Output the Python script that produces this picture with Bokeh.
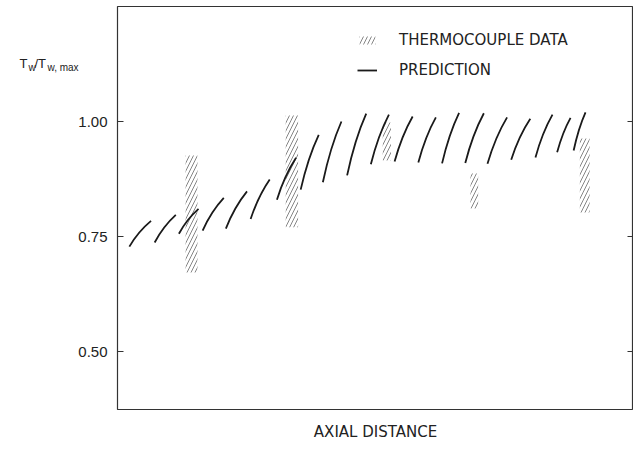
from bokeh.plotting import figure
from bokeh.models import (Range1d, LinearAxis, FixedTicker, Legend, LegendItem,
                          ColumnDataSource, Label, Title, CustomJSTickFormatter)
from bokeh.embed import file_html
from bokeh.resources import INLINE

# Predicted wall temperature: one curved stroke per axial section
pred_x_start = [2.3, 7.2, 11.9, 16.5, 21.0, 25.8, 30.9, 35.5, 39.8, 44.5,
                49.1, 53.7, 58.3, 62.9, 67.4, 71.7, 76.3, 81.0, 85.2, 88.4]
pred_x_end = [6.5, 11.3, 15.7, 20.6, 25.1, 29.5, 34.6, 39.0, 43.4, 48.2,
              52.6, 57.2, 61.7, 66.2, 71.0, 75.5, 80.0, 84.3, 87.8, 90.7]
pred_y_start = [0.728, 0.737, 0.756, 0.763, 0.767, 0.788, 0.830, 0.852, 0.868, 0.883,
                0.907, 0.913, 0.911, 0.909, 0.910, 0.908, 0.917, 0.922, 0.933, 0.937]
pred_y_end = [0.784, 0.797, 0.810, 0.834, 0.848, 0.874, 0.921, 0.971, 1.000, 1.017,
              1.015, 1.011, 1.009, 1.019, 1.018, 1.009, 1.006, 1.015, 1.008, 1.020]

# Thermocouple data bands
tc_x_left = [13.2, 32.6, 51.4, 68.4, 89.6]
tc_x_right = [15.5, 35.0, 53.0, 69.9, 91.5]
tc_y_low = [0.672, 0.770, 0.915, 0.811, 0.802]
tc_y_high = [0.926, 1.013, 0.998, 0.887, 0.963]

y_ticks = [0.50, 0.75, 1.00]

FONT = "Liberation Sans"
WIDE = "DejaVu Sans"
INK = "#1a1a1a"

p = figure(width=633, height=457, output_backend="svg", toolbar_location=None,
           x_range=Range1d(0, 100), y_range=Range1d(0.374, 1.25),
           min_border_left=117, min_border_right=0, min_border_top=6,
           min_border_bottom=48, x_axis_location=None, y_axis_location=None)
p.grid.visible = False
p.outline_line_color = "#333333"
p.outline_line_width = 1.2
p.background_fill_color = "white"
p.border_fill_color = "white"

# bow of each stroke: control point pulled slightly toward the upper left
bx, by = 0.4, 0.58
pred = ColumnDataSource(dict(
    x0=pred_x_start, y0=pred_y_start, x1=pred_x_end, y1=pred_y_end,
    cx=[a + bx * (b - a) for a, b in zip(pred_x_start, pred_x_end)],
    cy=[a + by * (b - a) for a, b in zip(pred_y_start, pred_y_end)],
))
tc = ColumnDataSource(dict(left=tc_x_left, right=tc_x_right,
                           bottom=tc_y_low, top=tc_y_high))

bars = p.quad(left="left", right="right", bottom="bottom", top="top", source=tc,
              fill_alpha=0, line_color=None, hatch_pattern="/",
              hatch_color="#666666", hatch_scale=8, hatch_weight=0.8)
curves = p.quadratic(x0="x0", y0="y0", x1="x1", y1="y1", cx="cx", cy="cy",
                     source=pred, line_color=INK, line_width=1.8)

fmt = CustomJSTickFormatter(code="return tick.toFixed(2);")
left_ax = LinearAxis(ticker=FixedTicker(ticks=y_ticks), formatter=fmt,
                     major_tick_in=6, major_tick_out=0, minor_tick_line_color=None,
                     axis_line_color=None, major_tick_line_color="#333333",
                     major_label_standoff=10, major_label_text_font=FONT,
                     major_label_text_font_size="15px",
                     major_label_text_color="#222222")
p.add_layout(left_ax, "left")
# right side carries inward tick marks only
right_ax = LinearAxis(ticker=FixedTicker(ticks=y_ticks), major_tick_in=6,
                      major_tick_out=0, minor_tick_line_color=None,
                      axis_line_color=None, major_tick_line_color="#333333",
                      formatter=CustomJSTickFormatter(code="return '';"),
                      major_label_standoff=0)
p.add_layout(right_ax, "right")

legend = Legend(items=[LegendItem(label="THERMOCOUPLE DATA", renderers=[bars]),
                       LegendItem(label="PREDICTION", renderers=[curves])],
                location=(240, 329), padding=0, margin=0, spacing=10,
                glyph_width=20, glyph_height=10, label_height=20,
                label_standoff=22, label_text_font=WIDE,
                label_text_font_size="15px", label_text_color="#222222",
                border_line_color=None, background_fill_alpha=0)
p.add_layout(legend)

# horizontal axis name under the frame
p.add_layout(Title(text="AXIAL DISTANCE", align="center", standoff=22,
                   text_font=WIDE, text_font_size="15px", text_font_style="normal",
                   text_color="#222222"), "below")

# y-axis quantity T_w / T_w,max with subscripts; each piece sits in its own
# slot of the left panel, so x is an offset from that slot's left edge
lab_y = 346
for txt, xs, dy, size in [("T", -48, 0, "13px"), ("w", -32, -4, "10px"),
                          ("/T", -14, 0, "13px"), ("w, max", 30, -4, "10px")]:
    p.add_layout(Label(x=xs, y=lab_y + dy, x_units="screen", y_units="screen",
                       text=txt, text_font=FONT, text_font_size=size,
                       text_color="#222222", text_baseline="middle"), "left")

open("out.html", "w").write(file_html(p, INLINE))
